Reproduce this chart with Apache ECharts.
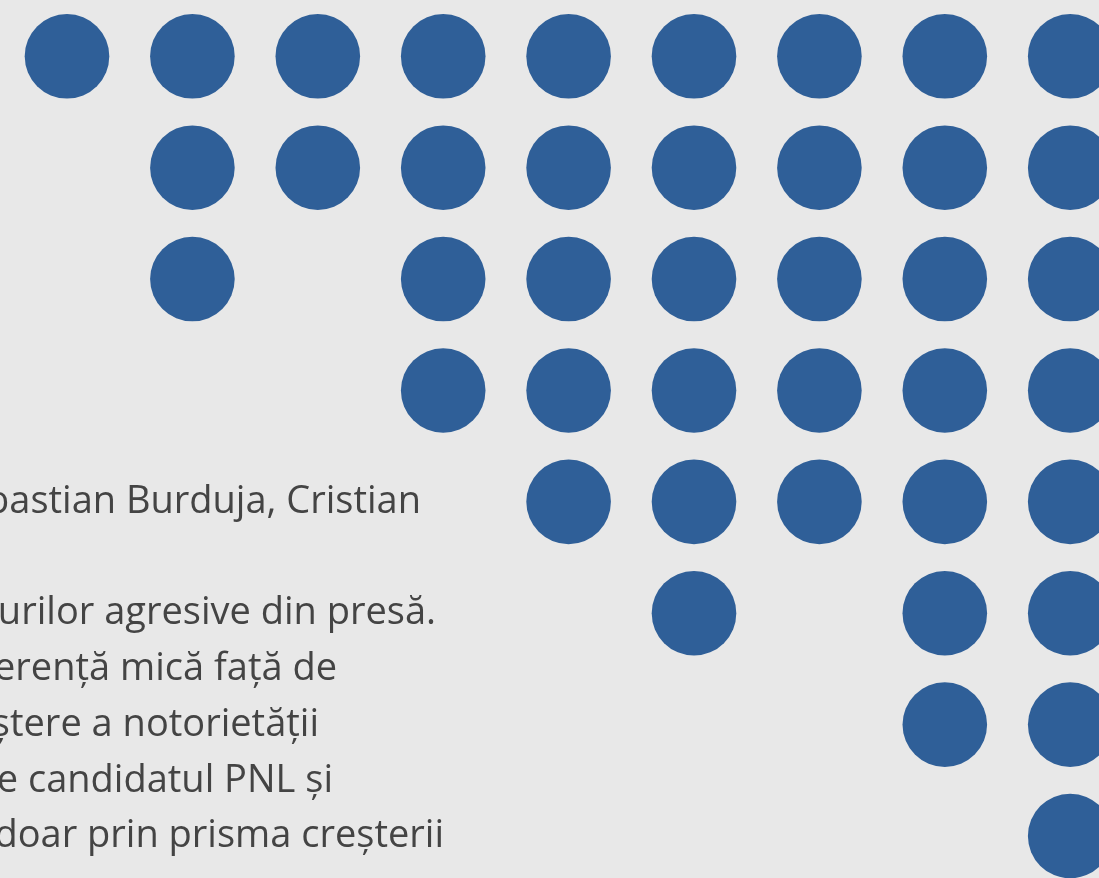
<!DOCTYPE html>
<html lang="ro">
<head>
    <meta charset="UTF-8">
    <title>Dots</title>
    <style>
        html, body {
            margin: 0;
            padding: 0;
            background: #e8e8e8;
        }
        #main {
            width: 1099px;
            height: 878px;
        }
    </style>
    <script type="text/javascript" src="https://cdn.jsdelivr.net/npm/echarts@6/dist/echarts.min.js"></script>
</head>
<body>
<div id="main"></div>
<script type="text/javascript">
    // number of dots in each column, counted from the top
    var columnCounts = [1, 3, 2, 4, 5, 6, 5, 7, 8];
    var rowCount = 8;

    // paragraph lines, clipped by the left border of the picture
    var textLines = [
        'precum Sebastian Burduja, Cristian',
        'în ciuda atacurilor agresive din presă.',
        'o diferență mică față de',
        'o creștere a notorietății',
        'față de candidatul PNL și',
        'nu doar prin prisma creșterii'
    ];
    var textBaselines = [513, 624, 680, 736, 792, 847];
    var textRightEdges = [421, 436, 337, 319, 333, 444];

    var dots = [];
    for (var c = 0; c < columnCounts.length; c++) {
        for (var r = 0; r < columnCounts[c]; r++) {
            dots.push([c, r]);
        }
    }

    var texts = [];
    for (var i = 0; i < textLines.length; i++) {
        texts.push({
            type: 'text',
            z: 10,
            style: {
                text: textLines[i],
                x: textRightEdges[i],
                y: textBaselines[i] - 11,
                align: 'right',
                verticalAlign: 'middle',
                fill: '#444444',
                font: '38px "Open Sans"'
            }
        });
    }

    var chart = echarts.init(document.getElementById('main'));
    var option = {
        backgroundColor: '#e8e8e8',
        animation: false,
        grid: {
            left: 67,
            right: 28.8,
            top: 56.3,
            bottom: 42
        },
        xAxis: {
            type: 'value',
            min: 0,
            max: columnCounts.length - 1,
            show: false
        },
        yAxis: {
            type: 'value',
            min: 0,
            max: rowCount - 1,
            inverse: true,
            show: false
        },
        graphic: texts,
        series: [{
            type: 'scatter',
            data: dots,
            symbol: 'circle',
            symbolSize: 84.6,
            itemStyle: {
                color: '#2f5f98',
                opacity: 1
            },
            clip: false
        }]
    };
    chart.setOption(option);
</script>
</body>
</html>
